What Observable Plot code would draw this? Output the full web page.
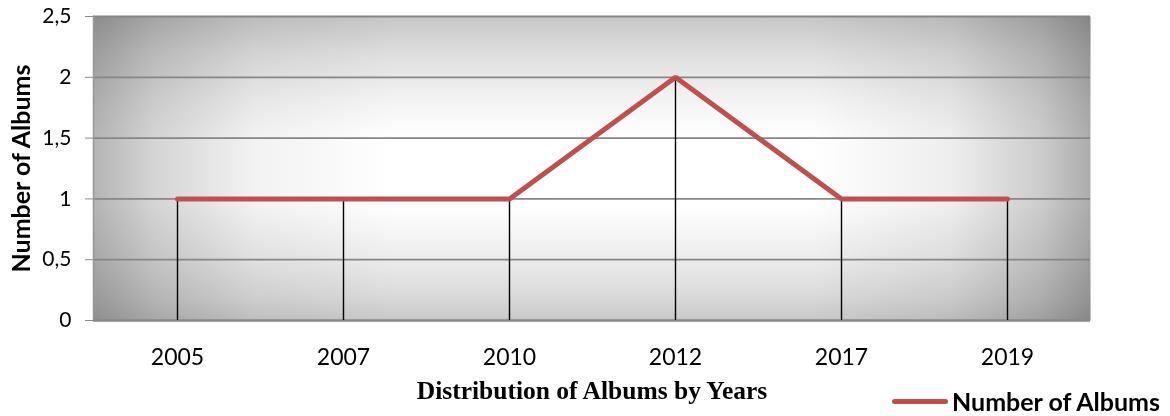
<!DOCTYPE html>
<html>
<head>
<meta charset="utf-8">
<script src="https://cdn.jsdelivr.net/npm/d3@7"></script>
<script src="https://cdn.jsdelivr.net/npm/@observablehq/plot@0.6"></script>
<style>
  html, body { margin: 0; padding: 0; background: #fff; }
  #wrap { position: relative; width: 1170px; height: 416px; overflow: hidden; }
  #title { position: absolute; left: 342px; width: 500px; top: 377px; text-align: center;
    font-family: "Liberation Serif", "Times New Roman", serif; font-weight: bold; font-size: 25.5px; line-height: 28px; color: #000; }
  #legend { position: absolute; left: 892px; top: 386px; display: flex; align-items: center;
    font-family: Lato, sans-serif; font-weight: bold; font-size: 25px; line-height: 30px; color: #000; white-space: nowrap; }
  #legend .sw { width: 56px; height: 5px; background: #C0504D; border-radius: 2.5px; margin-right: 4px; }
</style>
</head>
<body>
<div id="wrap">
  <div id="chart"></div>
  <div id="title"></div>
  <div id="legend"><span class="sw"></span><span id="legtext"></span></div>
</div>
<script>
const years = ["2005", "2007", "2010", "2012", "2017", "2019"];
const albums = [1, 1, 1, 2, 1, 1];
const yTicks = [0, 0.5, 1, 1.5, 2, 2.5];
const seriesName = "Number of Albums";
const yLabel = "Number of Albums";
const xTitle = "Distribution of Albums by Years";

const data = years.map((y, i) => ({year: y, albums: albums[i]}));

const chart = Plot.plot({
  width: 1170,
  height: 372,
  marginLeft: 93,
  marginRight: 80,
  marginTop: 16,
  marginBottom: 52,
  style: {fontFamily: "Lato, sans-serif", color: "#000", background: "transparent"},
  x: {type: "point", domain: years, padding: 0.5, label: null},
  y: {domain: [0, 2.5], label: null},
  marks: [
    Plot.frame({fill: "url(#bgH)", stroke: null}),
    Plot.frame({fill: "url(#bgV)", stroke: null, mixBlendMode: "multiply"}),
    Plot.gridY(yTicks, {stroke: "#868686", strokeOpacity: 1, strokeWidth: 1.8}),
    Plot.frame({anchor: "left", stroke: "#9a9a9a", strokeWidth: 1.6}),
    Plot.ruleY([0], {stroke: "#8a8a8a", strokeWidth: 2}),
    Plot.ruleX(data, {x: "year", y1: 0, y2: "albums", stroke: "#000", strokeWidth: 1.4}),
    Plot.line(data, {x: "year", y: "albums", stroke: "#C0504D", strokeWidth: 5, strokeLinejoin: "miter"}),
    Plot.axisX({tickSize: 0, tickPadding: 28, fontSize: 23}),
    Plot.axisY(yTicks, {tickSize: 8, tickPadding: 14, fontSize: 21, stroke: "#8a8a8a",
      tickFormat: d => String(d).replace(".", ","),
      label: yLabel, labelAnchor: "center", labelArrow: "none", labelOffset: 81}),
  ]
});

// gradient definitions for the plot background (rectangular-ish "from centre" fill)
const ns = "http://www.w3.org/2000/svg";
const defs = document.createElementNS(ns, "defs");
defs.innerHTML = `
<linearGradient id="bgH" x1="0" y1="0" x2="1" y2="0">
  <stop offset="0" stop-color="#b4b4b4"/>
  <stop offset="0.06" stop-color="#d4d4d4"/>
  <stop offset="0.16" stop-color="#f2f2f2"/>
  <stop offset="0.3" stop-color="#ffffff"/>
  <stop offset="0.72" stop-color="#ffffff"/>
  <stop offset="0.86" stop-color="#eeeeee"/>
  <stop offset="0.95" stop-color="#cccccc"/>
  <stop offset="1" stop-color="#acacac"/>
</linearGradient>
<linearGradient id="bgV" x1="0" y1="0" x2="0" y2="1">
  <stop offset="0" stop-color="#c6c6c6"/>
  <stop offset="0.12" stop-color="#dedede"/>
  <stop offset="0.28" stop-color="#f4f4f4"/>
  <stop offset="0.4" stop-color="#ffffff"/>
  <stop offset="0.62" stop-color="#ffffff"/>
  <stop offset="0.8" stop-color="#ececec"/>
  <stop offset="0.93" stop-color="#d8d8d8"/>
  <stop offset="1" stop-color="#c8c8c8"/>
</linearGradient>`;
chart.insertBefore(defs, chart.firstChild);

// bold y-axis label
chart.querySelectorAll("g[aria-label='y-axis label']").forEach(el => {
  el.setAttribute("font-weight", "bold");
  el.setAttribute("font-size", "25");
});

document.getElementById("chart").appendChild(chart);
document.getElementById("title").textContent = xTitle;
document.getElementById("legtext").textContent = seriesName;
</script>
</body>
</html>
